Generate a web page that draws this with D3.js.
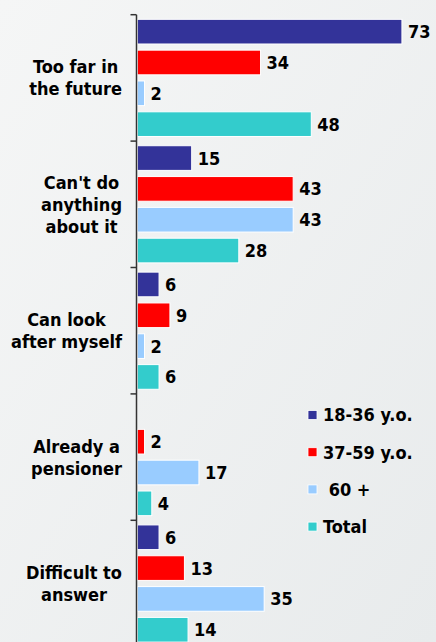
<!DOCTYPE html>
<html>
<head>
<meta charset="utf-8">
<script src="https://cdn.jsdelivr.net/npm/d3@7/dist/d3.min.js"></script>
<style>
  html, body { margin: 0; padding: 0; }
  body { width: 436px; height: 642px; overflow: hidden; }
  svg { display: block; }
  text { font-family: "DejaVu Sans Condensed", "DejaVu Sans", Verdana, sans-serif; font-weight: bold; fill: #000; }
</style>
</head>
<body>
<div id="chart"></div>
<script>
// Reasons, one group of bars each
const categories = [
  ["Too far in", "the future"],
  ["Can't do", "anything", "about it"],
  ["Can look", "after myself"],
  ["Already a", "pensioner"],
  ["Difficult to", "answer"]
];
const seriesNames = ["18-36 y.o.", "37-59 y.o.", " 60 +", "Total"];
const seriesColors = ["#333399", "#FF0000", "#99CCFF", "#33CCCC"];

// Percentages per series, in category order
const age18to36 = [73, 15, 6, null, 6];
const age37to59 = [34, 43, 9, 2, 13];
const age60plus = [2, 43, 2, 17, 35];
const total     = [48, 28, 6, 4, 14];
const seriesValues = [age18to36, age37to59, age60plus, total];

const W = 436, H = 642;
const FS = 18;
const svg = d3.select("#chart").append("svg").attr("width", W).attr("height", H);

// soft diagonal background
const defs = svg.append("defs");
const grad = defs.append("linearGradient").attr("id", "bg")
  .attr("x1", "0").attr("y1", "0").attr("x2", "1").attr("y2", "1");
grad.append("stop").attr("offset", "0").attr("stop-color", "#f5f6f6");
grad.append("stop").attr("offset", "1").attr("stop-color", "#e8ebec");
svg.append("rect").attr("width", W).attr("height", H).attr("fill", "url(#bg)");

const keys = d3.range(categories.length);
const y = d3.scaleBand().domain(keys).range([14.7, 14.7 + 5 * 126.4]).padding(0);
const ySub = d3.scaleBand().domain(d3.range(seriesNames.length))
  .range([0, y.bandwidth()]).paddingInner(0.2).paddingOuter(0.15);
const x = d3.scaleLinear().domain([0, 80]).range([137.3, 427.3]);

// bars
const groups = svg.append("g").selectAll("g").data(keys).join("g")
  .attr("transform", i => `translate(0,${y(i)})`);

const cells = groups.selectAll("g.cell")
  .data(i => seriesValues.map((vals, s) => ({ s, v: vals[i] })).filter(d => d.v != null))
  .join("g").attr("class", "cell");

cells.append("rect")
  .attr("x", x(0))
  .attr("y", d => ySub(d.s))
  .attr("width", d => x(d.v) - x(0))
  .attr("height", ySub.bandwidth())
  .attr("fill", d => seriesColors[d.s])
  .attr("stroke", "#ffffff")
  .attr("stroke-width", 1);

cells.append("text")
  .attr("x", d => x(d.v) + 6)
  .attr("y", d => ySub(d.s) + ySub.bandwidth() / 2)
  .attr("dy", "0.36em")
  .attr("font-size", FS)
  .text(d => d.v);

// category axis with group boundaries as ticks
const axisG = svg.append("g");
axisG.append("line")
  .attr("x1", 136.5).attr("x2", 136.5)
  .attr("y1", y.range()[0]).attr("y2", H + 10)
  .attr("stroke", "#333").attr("stroke-width", 1.5);
axisG.selectAll("line.tick").data(keys.concat([keys.length])).join("line")
  .attr("class", "tick")
  .attr("x1", 130.5).attr("x2", 136.5)
  .attr("y1", i => y.range()[0] + i * y.step())
  .attr("y2", i => y.range()[0] + i * y.step())
  .attr("stroke", "#333").attr("stroke-width", 1.5);

// category labels: block right-aligned near the axis, lines centred in it
const lineH = 22;
const labelRight = 122;
keys.forEach(i => {
  const lines = categories[i];
  const cy = y(i) + y.bandwidth() / 2;
  const t = svg.append("text").attr("font-size", FS).attr("text-anchor", "middle");
  const spans = lines.map((ln, k) => t.append("tspan")
    .attr("y", cy + (k - (lines.length - 1) / 2) * lineH)
    .attr("dy", "0.36em")
    .text(ln));
  const maxW = d3.max(spans, s => s.node().getComputedTextLength());
  spans.forEach(s => s.attr("x", labelRight - maxW / 2));
});

// legend
const legend = svg.append("g").attr("transform", "translate(308,415)");
const items = legend.selectAll("g").data(seriesNames).join("g")
  .attr("transform", (d, i) => `translate(0,${i * 37.2})`);
items.append("rect")
  .attr("x", 0).attr("y", -4.5).attr("width", 9).attr("height", 9)
  .attr("fill", (d, i) => seriesColors[i])
  .attr("stroke", "#ffffff").attr("stroke-width", 0.8);
items.append("text")
  .attr("x", 15).attr("y", 0).attr("dy", "0.36em")
  .attr("font-size", FS)
  .attr("xml:space", "preserve")
  .style("white-space", "pre")
  .text(d => d);
</script>
</body>
</html>
